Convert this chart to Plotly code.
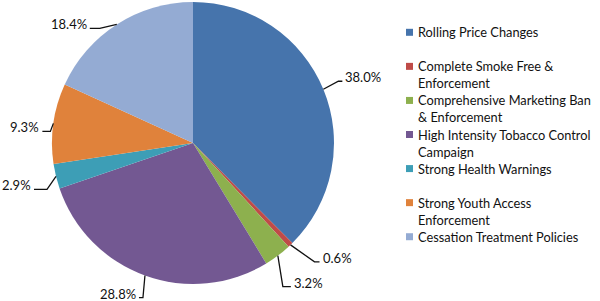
import math
import plotly.graph_objects as go

# ---- data ----
CATEGORIES = [
    "Rolling Price Changes",
    "Complete Smoke Free & Enforcement",
    "Comprehensive Marketing Ban & Enforcement",
    "High Intensity Tobacco Control Campaign",
    "Strong Health Warnings",
    "Strong Youth Access Enforcement",
    "Cessation Treatment Policies",
]
SHARES = [38.0, 0.6, 3.2, 28.8, 2.9, 9.3, 18.4]
LABEL_TEXT = ["38.0%", "0.6%", "3.2%", "28.8%", "2.9%", "9.3%", "18.4%"]
LEGEND_LINES = [
    ["Rolling Price Changes"],
    ["Complete Smoke Free &", "Enforcement"],
    ["Comprehensive Marketing Ban", "& Enforcement"],
    ["High Intensity Tobacco Control", "Campaign"],
    ["Strong Health Warnings"],
    ["Strong Youth Access", "Enforcement"],
    ["Cessation Treatment Policies"],
]

# ---- style / layout ----
COLORS = ["#4674AC", "#BF4B48", "#8DB04E", "#735892", "#3D9EB6", "#E0823B", "#94ABD3"]
W, H = 600, 301
CX, CY, R = 193, 143, 141
FONT = "Lato"
TXT = "#111111"
# leader elbow offsets from slice edge point (px), tail lengths (px)
ELBOW = [(15, -8), (24, 17), (5, 31), (-2, 22), (-9, 13), (-3, 8), (-17, 4)]
TAIL = [4, 5, 8, 4, 13, 8, 10]

def px(x):
    return x / W

def py(y):
    return 1 - y / H

fig = go.Figure()
fig.add_trace(go.Pie(
    labels=CATEGORIES, values=SHARES, sort=False, direction="clockwise", rotation=0,
    marker=dict(colors=COLORS, line=dict(width=0)),
    textinfo="none", hoverinfo="label+percent", showlegend=False,
    domain=dict(x=[px(CX - R), px(CX + R)], y=[py(CY + R), py(CY - R)]),
))

shapes, annotations = [], []
total = sum(SHARES)
cum = 0.0
for i, v in enumerate(SHARES):
    mid = (cum + v / 2) / total * 2 * math.pi
    cum += v
    x0 = CX + R * math.sin(mid)
    y0 = CY - R * math.cos(mid)
    ex, ey = x0 + ELBOW[i][0], y0 + ELBOW[i][1]
    side = 1 if math.sin(mid) > 0 else -1
    tx = ex + side * TAIL[i]
    path = f"M{px(x0)},{py(y0)} L{px(ex)},{py(ey)} L{px(tx)},{py(ey)}"
    shapes.append(dict(type="path", xref="paper", yref="paper", path=path,
                       line=dict(color="#111111", width=1.3)))
    annotations.append(dict(
        xref="paper", yref="paper", x=px(tx + side * 1), y=py(ey - 4),
        xanchor="left" if side > 0 else "right", yanchor="middle",
        text=LABEL_TEXT[i], showarrow=False, font=dict(family=FONT, size=13, color=TXT)))

# legend (manual, Excel-like)
LEG_X, LEG_Y0, LEG_STEP, LINE_H, SQ = 406, 32.3, 34.07, 17, 7
for i, lines in enumerate(LEGEND_LINES):
    yc = LEG_Y0 + LEG_STEP * i
    shapes.append(dict(type="rect", xref="paper", yref="paper",
                       x0=px(LEG_X), x1=px(LEG_X + SQ), y0=py(yc + SQ / 2), y1=py(yc - SQ / 2),
                       fillcolor=COLORS[i], line=dict(width=0)))
    for j, ln in enumerate(lines):
        annotations.append(dict(
            xref="paper", yref="paper", x=px(LEG_X + SQ + 3), y=py(yc + LINE_H * j),
            xanchor="left", yanchor="middle", text=ln, showarrow=False,
            font=dict(family=FONT, size=12.8, color=TXT)))

fig.update_layout(
    width=W, height=H, margin=dict(l=0, r=0, t=0, b=0),
    paper_bgcolor="white", plot_bgcolor="white",
    shapes=shapes, annotations=annotations, showlegend=False,
    font=dict(family=FONT, size=13, color=TXT),
)
fig.write_html("out.html", config={"displayModeBar": False},
               post_script="document.body.style.margin='0';document.body.style.overflow='hidden';")
